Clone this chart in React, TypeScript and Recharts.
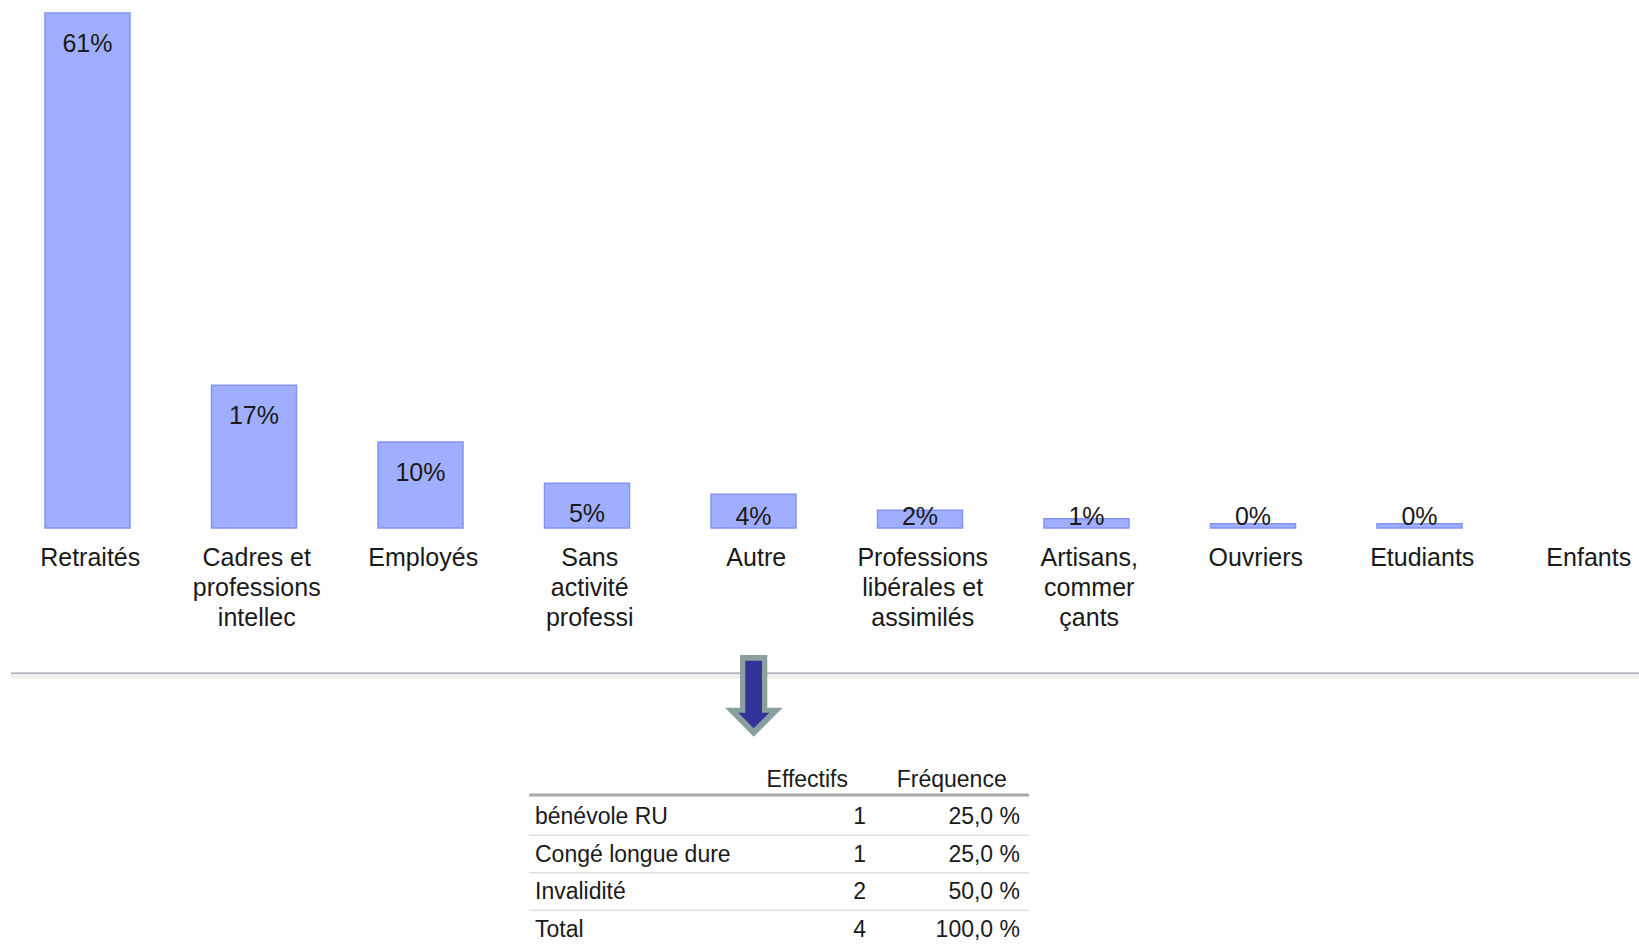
import React from "react";
import { Bar, BarChart, LabelList, XAxis, YAxis } from "recharts";

// chart values
const categories = [
  "Retraités",
  "Cadres et\nprofessions\nintellec",
  "Employés",
  "Sans\nactivité\nprofessi",
  "Autre",
  "Professions\nlibérales et\nassimilés",
  "Artisans,\ncommer\nçants",
  "Ouvriers",
  "Etudiants",
  "Enfants",
];
const shares = [61, 16.9, 10.2, 5.3, 4.0, 2.1, 1.1, 0.5, 0.5, 0];
const shareLabels = ["61%", "17%", "10%", "5%", "4%", "2%", "1%", "0%", "0%", ""];

// table under the arrow
const tableHeaders = ["Effectifs", "Fréquence"];
const otherNames = ["bénévole RU", "Congé longue dure", "Invalidité", "Total"];
const otherCounts = ["1", "1", "2", "4"];
const otherFreqs = ["25,0 %", "25,0 %", "50,0 %", "100,0 %"];

const FONT = "'Liberation Sans', Arial, sans-serif";
const INK = "#1a1a1a";

const rows = categories.map((name, i) => ({
  name,
  share: shares[i],
  label: shareLabels[i],
}));

const CategoryTick = (props: any) => {
  const { x, y, payload } = props;
  const lines = String(payload.value).split("\n");
  return (
    <text x={x + 3} y={y} textAnchor="middle" fontSize={25} fill={INK} fontFamily={FONT}>
      {lines.map((l, i) => (
        <tspan key={i} x={x + 3} dy={i === 0 ? 37.5 : 30.3}>
          {l}
        </tspan>
      ))}
    </text>
  );
};

const renderShare = (props: any) => {
  const { x, y, width, height, value } = props;
  if (!value) return null;
  const cy = Math.min(y + 30, y + height - 12);
  return (
    <text
      x={x + width / 2}
      y={cy}
      textAnchor="middle"
      dominantBaseline="central"
      fontSize={25}
      fill={INK}
      fontFamily={FONT}
    >
      {value}
    </text>
  );
};

export default function App() {
  const rowY = (i: number) => 824 + i * 37.55;
  return (
    <div
      style={{
        position: "absolute",
        left: 0,
        top: 0,
        width: 1639,
        height: 944,
        overflow: "hidden",
        background: "#fff",
        fontFamily: FONT,
      }}
    >
      <BarChart
        width={1639}
        height={660}
        data={rows}
        margin={{ top: 13, right: -30, left: 4, bottom: 12 }}
      >
        <XAxis
          dataKey="name"
          axisLine={false}
          tickLine={false}
          tickSize={0}
          tickMargin={0}
          interval={0}
          height={120}
          tick={<CategoryTick />}
        />
        <YAxis hide domain={[0, 61]} />
        <Bar
          dataKey="share"
          fill="#a0aeff"
          stroke="#8393f7"
          strokeWidth={1.5}
          barSize={85}
          isAnimationActive={false}
        >
          <LabelList dataKey="label" content={renderShare} />
        </Bar>
      </BarChart>

      <svg
        width={1639}
        height={944}
        style={{ position: "absolute", left: 0, top: 0, pointerEvents: "none" }}
        fontFamily={FONT}
      >
        <rect x={11} y={672.3} width={1628} height={2} fill="#b3b3bb" />
        <rect x={11} y={674.3} width={1628} height={4.5} fill="#efefef" />

        <polygon
          points="740,655 767.3,655 767.3,707.7 782.7,707.7 753.7,736.7 725,707.7 740,707.7"
          fill="#8aa0a0"
        />
        <polygon
          points="745.3,660.7 762,660.7 762,712.7 769.3,712.7 753.7,728.3 738.3,712.7 745.3,712.7"
          fill="#333399"
        />

        <text x={848} y={786.7} textAnchor="end" fontSize={23} fill={INK}>
          {tableHeaders[0]}
        </text>
        <text x={1006.7} y={786.7} textAnchor="end" fontSize={23} fill={INK}>
          {tableHeaders[1]}
        </text>
        <rect x={529} y={793.5} width={500} height={3} fill="#a9a9a9" />

        {otherNames.map((n, i) => (
          <g key={n}>
            <text x={535} y={rowY(i)} fontSize={23} fill={INK}>
              {n}
            </text>
            <text x={866} y={rowY(i)} textAnchor="end" fontSize={23} fill={INK}>
              {otherCounts[i]}
            </text>
            <text x={1020} y={rowY(i)} textAnchor="end" fontSize={23} fill={INK}>
              {otherFreqs[i]}
            </text>
            {i < otherNames.length - 1 && (
              <rect x={529} y={rowY(i) + 10.5} width={500} height={1.5} fill="#dedede" />
            )}
          </g>
        ))}
      </svg>
    </div>
  );
}
